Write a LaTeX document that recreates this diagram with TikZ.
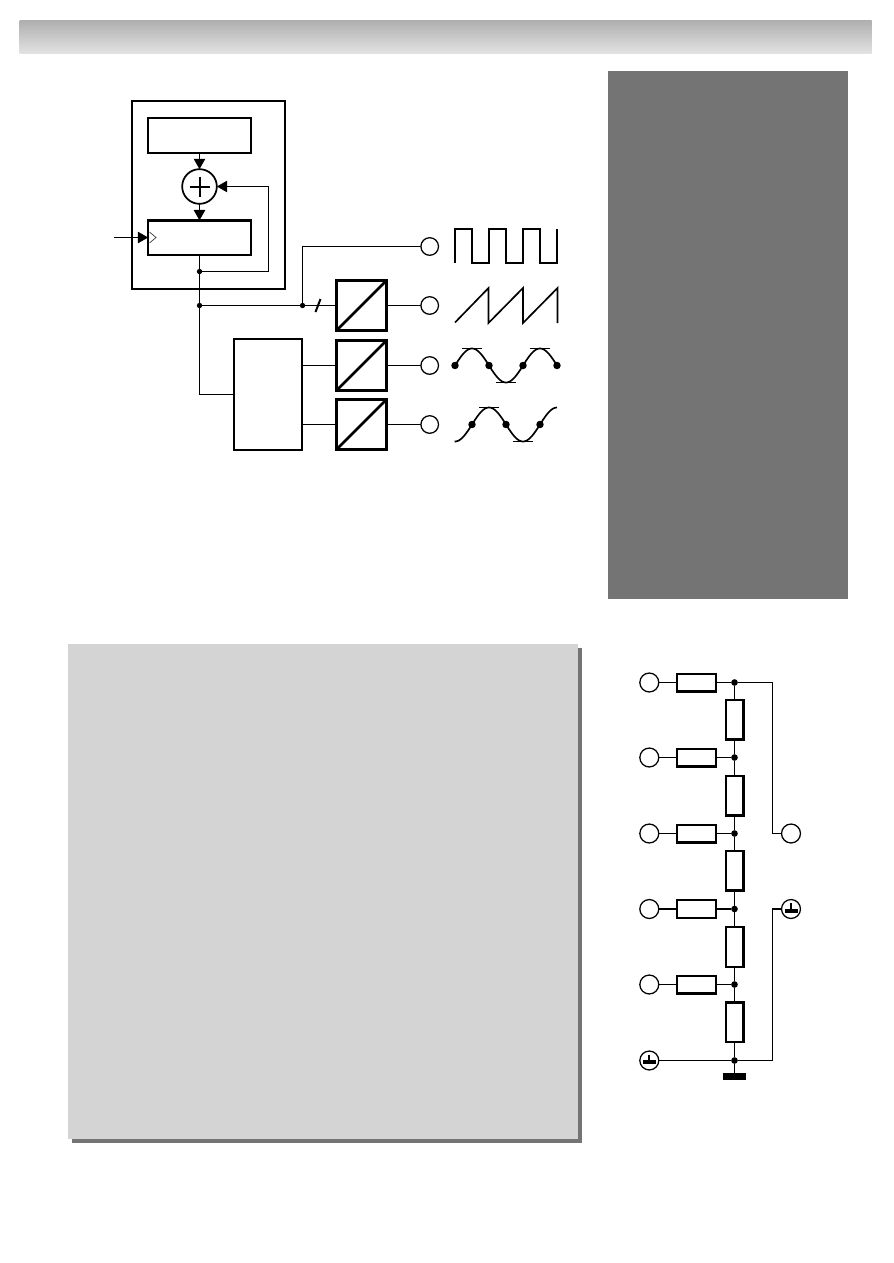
\documentclass[tikz,border=0pt]{standalone}
\usetikzlibrary{arrows.meta,shadings}
\definecolor{panelgray}{HTML}{747474}
\definecolor{lightpanel}{HTML}{D4D4D4}
\definecolor{headtop}{HTML}{B0B0B0}
\definecolor{headbot}{HTML}{E3E3E3}
\tikzset{
  wire/.style={line width=0.85pt,line cap=butt,line join=miter},
  heavywire/.style={line width=1.4pt,line join=miter},
  wave/.style={line width=1.25pt,line join=miter},
  tick/.style={line width=0.8pt},
  blockbox/.style={draw,line width=1.7pt,fill=white,inner sep=0pt,outer sep=0pt},
  outerbox/.style={draw,line width=2.1pt,inner sep=0pt,outer sep=0pt},
  dacbox/.style={draw,line width=2.1pt,fill=white,inner sep=0pt,outer sep=0pt,minimum width=38pt,minimum height=38pt},
  resh/.style={draw,line width=1.8pt,fill=white,inner sep=0pt,outer sep=0pt,minimum width=29.2pt,minimum height=13.2pt},
  resv/.style={draw,line width=1.8pt,fill=white,inner sep=0pt,outer sep=0pt,minimum width=13.2pt,minimum height=29.6pt},
  pin/.style={circle,draw,line width=0.95pt,fill=white,inner sep=0pt,outer sep=0pt,minimum size=13.2pt},
  bigpin/.style={circle,draw,line width=0.95pt,fill=white,inner sep=0pt,outer sep=0pt,minimum size=14.2pt},
  jdot/.style={circle,fill=black,inner sep=0pt,outer sep=0pt,minimum size=4pt},
  wavedot/.style={circle,fill=black,inner sep=0pt,outer sep=0pt,minimum size=5.6pt},
  bigdot/.style={circle,fill=black,inner sep=0pt,outer sep=0pt,minimum size=5pt},
  tip/.style={-{Triangle[length=7.8pt,width=8.6pt]}},
}
\begin{document}
\begin{tikzpicture}[x=0.75pt,y=-0.75pt]
\useasboundingbox (0,0) rectangle (893,1263);
% header and panels
\shade[top color=headtop,bottom color=headbot] (19.5,21) rectangle (871.5,53.7);
\fill[panelgray] (608,71) rectangle (848,599);
\fill[panelgray] (72,648) rectangle (582.3,1143.3);
\fill[lightpanel] (68,644) rectangle (577.7,1139);
% accumulator block
\node[outerbox,minimum width=114.8pt,minimum height=141pt] (acc) at (208.5,195) {};
\node[blockbox,minimum width=77pt,minimum height=26pt] (top) at (199.5,135.6) {};
\node[blockbox,minimum width=77pt,minimum height=25.7pt] (reg) at (199.5,237.5) {};
\node[circle,draw,line width=1.3pt,fill=white,inner sep=0pt,outer sep=0pt,minimum size=26pt] (sum) at (199.5,186.5) {};
\draw[line width=1.5pt] (sum.center) ++(-10,0) -- ++(20,0) (sum.center) ++(0,-10) -- ++(0,20);
\draw[wire,tip] (top.south) -- (sum.north);
\draw[wire,tip] (sum.south) -- (reg.north);
\coordinate (clk) at (114,237.5);
\draw[wire,tip] (clk) -- (reg.west);
\coordinate (chA) at (149.5,232);
\coordinate (chB) at (156,237.5);
\coordinate (chC) at (149.5,243);
\draw[line width=0.55pt,black!75] (chA) -- (chB) -- (chC);
\node[jdot] (dA) at (199.5,271.5) {};
\node[jdot] (dB) at (199.5,305.5) {};
\node[jdot] (dC) at (302.5,305.5) {};
\coordinate (fbA) at (268.5,271.5);
\coordinate (fbB) at (268.5,186.5);
\draw[wire] (reg.south) -- (dA);
\draw[wire] (dA) -- (dB);
\draw[wire,tip] (dA) -- (fbA) -- (fbB) -- (sum.east);
% converters
\node[dacbox] (dac1) at (361.5,305.5) {};
\node[dacbox] (dac2) at (361.5,365.5) {};
\node[dacbox] (dac3) at (361.5,424.5) {};
\node[blockbox,minimum width=51.2pt,minimum height=83pt] (rom) at (268,394.5) {};
\foreach \n in {dac1,dac2,dac3}{
  \draw[line width=2.1pt] (\n.south west) -- (\n.north east);
}
\node[pin] (o1) at (429.7,246.5) {};
\node[pin] (o2) at (429.7,305.5) {};
\node[pin] (o3) at (429.7,365.5) {};
\node[pin] (o4) at (429.7,424.5) {};
\draw[wire] (dB) -- (dC);
\draw[wire] (dC) -- (dac1.west);
\draw[wire] (dC) |- (o1.west);
\draw[wire] (dB) |- (rom.west);
\draw[wire] (dac1.east) -- (o2.west);
\draw[wire] (dac2.east) -- (o3.west);
\draw[wire] (dac3.east) -- (o4.west);
\draw[wire] (rom.east |- dac2.west) -- (dac2.west);
\draw[wire] (rom.east |- dac3.west) -- (dac3.west);
\draw[line width=1.5pt] (315.5,312) -- (320.5,299);
% waveforms
\draw[wave] (455,262.7) -- (455,229) -- (472,229) -- (472,262.7) -- (489,262.7) -- (489,229) -- (506,229) -- (506,262.7) -- (522.7,262.7) -- (522.7,229) -- (540,229) -- (540,262.7) -- (557.3,262.7) -- (557.3,229);
\draw[wave] (455,322.5) -- (488.5,288) -- (488.5,323) -- (523,288) -- (523,323) -- (557.5,288) -- (557.5,323);
\draw[wave] plot[domain=455:557,samples=90] (\x,{365.5-17*sin((\x-455)*5.2941)});
\draw[wave] plot[domain=454.5:557,samples=90] (\x,{424.5-17*sin((\x-472)*5.2941)});
\foreach \x in {455,489,523,557}{\node[wavedot] at (\x,365.5) {};}
\foreach \x in {472,506,540}{\node[wavedot] at (\x,424.5) {};}
\draw[tick] (462,348.5) -- (482,348.5) (496,382.5) -- (516,382.5) (530,348.5) -- (550,348.5);
\draw[tick] (479,407.5) -- (499,407.5) (513,441.5) -- (533,441.5);
% resistor network
\node[bigpin] (p1) at (649.3,682.5) {};
\node[bigpin] (p2) at (649.3,757.5) {};
\node[bigpin] (p3) at (649.3,833.5) {};
\node[bigpin] (p4) at (649.3,909) {};
\node[bigpin] (p5) at (649.3,984.5) {};
\node[bigpin] (p6) at (649.3,1060.5) {};
\node[bigpin] (q1) at (791,833.5) {};
\node[bigpin] (q2) at (791,909) {};
\node[resh] (h1) at (696.5,682.5) {};
\node[resh] (h2) at (696.5,757.5) {};
\node[resh] (h3) at (696.5,833.5) {};
\node[resh] (h4) at (696.5,909) {};
\node[resh] (h5) at (696.5,984.5) {};
\node[resv] (v1) at (734.5,719.8) {};
\node[resv] (v2) at (734.5,795.7) {};
\node[resv] (v3) at (734.5,870.8) {};
\node[resv] (v4) at (734.5,947) {};
\node[resv] (v5) at (734.5,1022.3) {};
\node[bigdot] (j1) at (734.5,682.5) {};
\node[bigdot] (j2) at (734.5,757.5) {};
\node[bigdot] (j3) at (734.5,833.5) {};
\node[bigdot] (j4) at (734.5,909) {};
\node[bigdot] (j5) at (734.5,984.5) {};
\node[bigdot] (j6) at (734.5,1060.5) {};
\node[fill=black,inner sep=0pt,outer sep=0pt,minimum width=17pt,minimum height=5pt] (gnd) at (734.5,1076.3) {};
\draw[wire] (p1.east) -- (h1.west);
\draw[wire] (p2.east) -- (h2.west);
\draw[wire] (p3.east) -- (h3.west);
\draw[heavywire] (p4.east) -- (h4.west);
\draw[wire] (p5.east) -- (h5.west);
\draw[wire] (h1.east) -- (j1);
\draw[wire] (h2.east) -- (j2);
\draw[wire] (h3.east) -- (j3);
\draw[wire] (h4.east) -- (j4);
\draw[wire] (h5.east) -- (j5);
\draw[wire] (j1) -- (v1.north);
\draw[wire] (v1.south) -- (j2) -- (v2.north);
\draw[wire] (v2.south) -- (j3) -- (v3.north);
\draw[wire] (v3.south) -- (j4) -- (v4.north);
\draw[wire] (v4.south) -- (j5) -- (v5.north);
\draw[wire] (v5.south) -- (j6) -- (gnd.north);
\draw[wire] (p6.east) -- (j6);
\coordinate (rA) at (772.5,682.5);
\coordinate (rB) at (772.5,833.5);
\coordinate (rC) at (772.5,1060.5);
\coordinate (rD) at (772.5,909);
\draw[wire] (j1) -- (rA);
\draw[heavywire] (rA) -- (rB);
\draw[wire] (rB) -- (q1.west);
\draw[wire] (j6) -- (rC);
\draw[heavywire] (rC) -- (rD) -- (q2.west);
% ground symbols in pins
\fill (q2.center) ++(-6,0) rectangle ++(12.5,3.8);
\draw[line width=1.3pt] (q2.center) -- ++(0,-6);
\fill (p6.center) ++(-6.5,-0.5) rectangle ++(13,3.8);
\draw[line width=1.3pt] (p6.center) -- ++(0,-6);
\end{tikzpicture}
\end{document}
